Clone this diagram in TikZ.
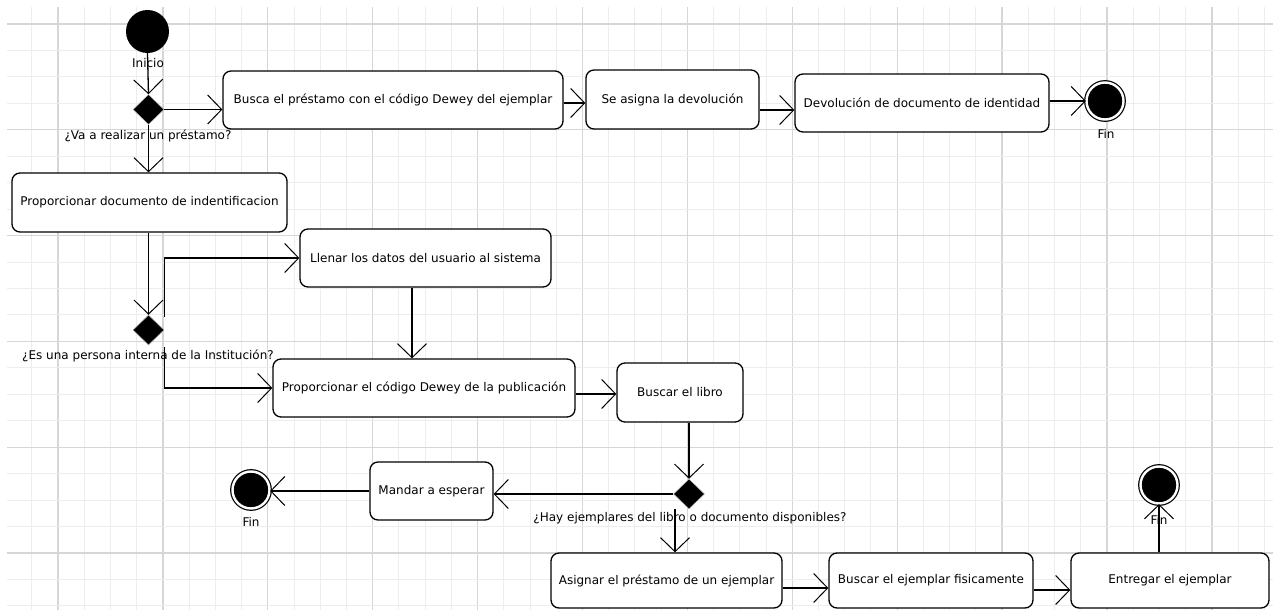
\documentclass[tikz,border=0pt]{standalone}
\usepackage{fontspec}
\setmainfont{DejaVu Sans}
\usetikzlibrary{arrows.meta, shapes.geometric, calc}
\newcommand{\dgfont}{\fontsize{12}{14}\selectfont}

\begin{document}
\begin{tikzpicture}
   [
      x=1pt, y=-1pt,
      activity/.style={draw, rounded corners=8pt, line width=1.3pt, fill=white, font=\dgfont, inner sep=0pt},
      initial/.style={circle, fill=black, minimum size=43pt, inner sep=0pt},
      final/.style={circle, fill=black, draw=black, line width=1.2pt, double=white, double distance=2.4pt, minimum size=37pt, inner sep=0pt},
      decision/.style={diamond, fill=black, draw=gray!60, line width=0.5pt, minimum width=31pt, minimum height=30pt, inner sep=0pt},
      caption/.style={font=\dgfont, inner sep=0pt},
      flow/.style={line width=1.3pt, -{Straight Barb[length=14pt, width=29pt, line width=1pt]}},
      minor line/.style={gray!14, line width=1pt},
      major line/.style={gray!32, line width=1.3pt},
   ]

   % =======================================================
   % Background grid
   % =======================================================
   \fill[white] (0,0) rectangle (1278,610);
   \useasboundingbox (0,0) rectangle (1278,610);

   \foreach \i in {-1,...,46} {
      \pgfmathtruncatemacro{\m}{mod(\i+4,4)}
      \ifnum\m=0
         \draw[major line] (58+26.225*\i,7) -- (58+26.225*\i,610);
      \else
         \draw[minor line] (58+26.225*\i,7) -- (58+26.225*\i,610);
      \fi
   }
   \foreach \j in {0,...,22} {
      \pgfmathtruncatemacro{\m}{mod(\j,4)}
      \ifnum\m=0
         \draw[major line] (7,24+26.45*\j) -- (1273,24+26.45*\j);
      \else
         \draw[minor line] (7,24+26.45*\j) -- (1273,24+26.45*\j);
      \fi
   }

   % =======================================================
   % Top row: devolucion
   % =======================================================

   \node[initial] (inicio) at (147.5,31.5) {};
   \node[caption] (inicio_lbl) at (148,63) {Inicio};

   \node[decision] (prestamo_q) at (148.5,109.5) {};
   \node[caption] (prestamo_lbl) at (148,136) {¿Va a realizar un préstamo?};

   \node[activity, minimum width=340pt, minimum height=58pt] (busca) at (393,100) {Busca el préstamo con el código Dewey del ejemplar};
   \node[activity, minimum width=173pt, minimum height=59pt] (asigna) at (672.5,99.5) {Se asigna la devolución};
   \node[activity, minimum width=254pt, minimum height=58pt] (devol) at (922,103) {Devolución de documento de identidad};

   \node[final] (fin_devol) at (1105,101) {};
   \node[caption] (fin_devol_lbl) at (1106,134) {Fin};

   % =======================================================
   % Middle: registro del usuario
   % =======================================================

   \node[activity, minimum width=275pt, minimum height=59pt] (prop_id) at (149.5,202.5) {Proporcionar documento de indentificacion};

   \node[decision] (interna_q) at (148.5,330) {};
   \node[caption] (interna_lbl) at (148,356) {¿Es una persona interna de la Institución?};

   \node[activity, minimum width=251pt, minimum height=58pt] (llenar) at (425.5,258) {Llenar los datos del usuario al sistema};
   \node[activity, minimum width=302pt, minimum height=58pt] (prop_dewey) at (424,388) {Proporcionar el código Dewey de la publicación};
   \node[activity, minimum width=126pt, minimum height=59pt] (buscar_libro) at (680,392.5) {Buscar el libro};

   % =======================================================
   % Bottom: disponibilidad
   % =======================================================

   \node[decision] (hay_q) at (689,494) {};
   \node[caption] (hay_lbl) at (690,518) {¿Hay ejemplares del libro o documento disponibles?};

   \node[activity, minimum width=123pt, minimum height=58pt] (mandar) at (431.5,491) {Mandar a esperar};
   \node[final] (fin_espera) at (251,490) {};
   \node[caption] (fin_espera_lbl) at (251,522) {Fin};

   \node[activity, minimum width=231pt, minimum height=55pt] (asignar) at (666.5,580.5) {Asignar el préstamo de un ejemplar};
   \node[activity, minimum width=204pt, minimum height=55pt] (buscar_ej) at (931,580.5) {Buscar el ejemplar fisicamente};
   \node[activity, minimum width=198pt, minimum height=55pt] (entregar) at (1170,580.5) {Entregar el ejemplar};

   \node[final] (fin_entrega) at (1159,485) {};
   \node[caption] (fin_entrega_lbl) at (1159,520) {Fin};

   % =======================================================
   % Arrows
   % =======================================================

   \coordinate (busca_out) at ([yshift=-3pt]busca.east);
   \coordinate (asigna_out) at ([yshift=-10.5pt]asigna.east);
   \coordinate (llenar_out) at ([xshift=-13.5pt]llenar.south);
   \coordinate (dewey_out) at ([yshift=-6pt]prop_dewey.east);
   \coordinate (hay_out) at ([xshift=-14pt]hay_q.south);
   \coordinate (asignar_out) at ([yshift=-7.5pt]asignar.east);
   \coordinate (buscar_ej_out) at ([yshift=-9.5pt]buscar_ej.east);

   \draw[flow] (inicio.south) -- (prestamo_q.north);
   \draw[flow] (prestamo_q.east) -- (prestamo_q.east -| busca.west);
   \draw[flow] (busca_out) -- (busca_out -| asigna.west);
   \draw[flow] (asigna_out) -- (asigna_out -| devol.west);
   \draw[flow] (fin_devol.west -| devol.east) -- (fin_devol.west);

   \draw[flow] (prestamo_q.south) -- (prestamo_q.south |- prop_id.north);
   \draw[flow] (interna_q.north |- prop_id.south) -- (interna_q.north);
   \draw[flow] ([yshift=13pt]interna_q.east) |- (llenar.west);
   \draw[flow] ([yshift=-17pt]interna_q.east) |- (prop_dewey.west);
   \draw[flow] (llenar_out) -- (llenar_out |- prop_dewey.north);
   \draw[flow] (dewey_out) -- (dewey_out -| buscar_libro.west);

   \draw[flow] (hay_q.north |- buscar_libro.south) -- (hay_q.north);
   \draw[flow] (hay_q.west) -- (hay_q.west -| mandar.east);
   \draw[flow] (mandar.west) -- (mandar.west -| fin_espera.east);
   \draw[flow] (hay_out) -- (hay_out |- asignar.north);
   \draw[flow] (asignar_out) -- (asignar_out -| buscar_ej.west);
   \draw[flow] (buscar_ej_out) -- (buscar_ej_out -| entregar.west);
   \draw[flow] (fin_entrega.south |- entregar.north) -- (fin_entrega.south);

\end{tikzpicture}
\end{document}
